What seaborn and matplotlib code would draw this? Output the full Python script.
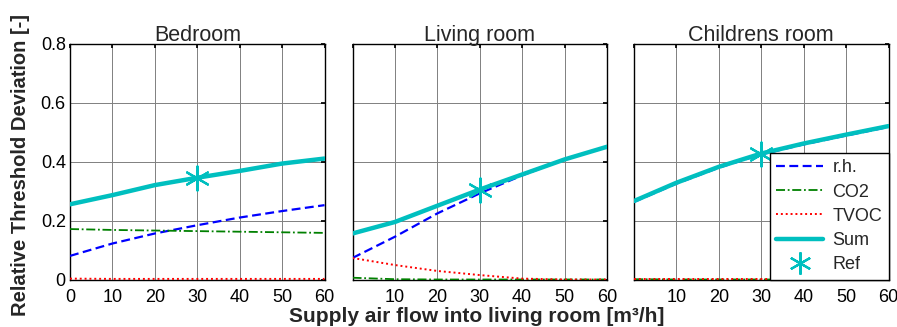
import numpy as np
import pandas as pd
import matplotlib
matplotlib.use("Agg")
import matplotlib.pyplot as plt
import seaborn as sns
from matplotlib.lines import Line2D

# Supply air flow [m³/h]
flow = [0, 10, 20, 30, 40, 50, 60]

rooms = ["Bedroom", "Living room", "Childrens room"]

# Relative threshold deviation per pollutant and room
rh = {
    "Bedroom":        [0.080, 0.122, 0.156, 0.184, 0.210, 0.232, 0.252],
    "Living room":    [0.073, 0.145, 0.224, 0.292, 0.353, 0.407, 0.450],
    "Childrens room": [0.263, 0.325, 0.379, 0.424, 0.458, 0.488, 0.517],
}
co2 = {
    "Bedroom":        [0.171, 0.168, 0.166, 0.164, 0.162, 0.160, 0.158],
    "Living room":    [0.006, 0.001, 0.000, 0.000, 0.000, 0.000, 0.000],
    "Childrens room": [0.001, 0.000, 0.000, 0.000, 0.000, 0.000, 0.000],
}
tvoc = {
    "Bedroom":        [0.003, 0.002, 0.002, 0.002, 0.002, 0.002, 0.002],
    "Living room":    [0.073, 0.049, 0.029, 0.015, 0.003, 0.000, 0.000],
    "Childrens room": [0.003, 0.003, 0.003, 0.003, 0.003, 0.003, 0.003],
}
total = {
    "Bedroom":        [0.255, 0.286, 0.320, 0.345, 0.368, 0.393, 0.410],
    "Living room":    [0.156, 0.195, 0.250, 0.305, 0.356, 0.407, 0.450],
    "Childrens room": [0.266, 0.328, 0.382, 0.427, 0.461, 0.491, 0.520],
}
ref_flow = 30
ref_value = {"Bedroom": 0.345, "Living room": 0.302, "Childrens room": 0.425}

series_names = ["r.h.", "CO2", "TVOC", "Sum"]
colors = {"r.h.": "#0000FF", "CO2": "#008000", "TVOC": "#FF0000", "Sum": "#00BFBF"}
dashes = {"r.h.": (4, 2), "CO2": (5, 1.5, 1, 1.5), "TVOC": (1, 1.5), "Sum": ""}
widths = {"r.h.": 1.6, "CO2": 1.3, "TVOC": 1.4, "Sum": 3.2}
zorders = {"r.h.": 3, "CO2": 3, "TVOC": 3, "Sum": 4}

rows = []
for room in rooms:
    for name, src in zip(series_names, [rh, co2, tvoc, total]):
        for x, y in zip(flow, src[room]):
            rows.append({"room": room, "series": name, "flow": x, "value": y})
df = pd.DataFrame(rows)

sns.set_theme(style="white")
plt.rcParams["font.family"] = ["Liberation Sans", "DejaVu Sans"]

fig = plt.figure(figsize=(8.97, 3.27), dpi=100)
lefts = [70, 352.5, 634]
W, H = 897, 327
axes = []
for i, room in enumerate(rooms):
    ax = fig.add_axes([lefts[i] / W, (H - 279.5) / H, 254.5 / W, 236 / H])
    axes.append(ax)
    sub = df[df["room"] == room]
    for name in series_names:
        s = sub[sub["series"] == name]
        sns.lineplot(data=s, x="flow", y="value", ax=ax, color=colors[name],
                     linewidth=widths[name], legend=False, zorder=zorders[name])
        line = ax.get_lines()[-1]
        if dashes[name]:
            line.set_dashes(dashes[name])
    ax.scatter([ref_flow], [ref_value[room]], marker=(6, 2, 0), s=300,
               color="#00BFBF", linewidths=1.6, zorder=5)
    ax.set_xlim(0, 60)
    ax.set_ylim(0, 0.8)
    ax.set_xticks([0, 10, 20, 30, 40, 50, 60])
    ax.set_yticks([0, 0.2, 0.4, 0.6, 0.8])
    if i == 0:
        ax.set_xticklabels(["0", "10", "20", "30", "40", "50", "60"])
        ax.set_yticklabels(["0", "0.2", "0.4", "0.6", "0.8"])
    else:
        ax.set_xticklabels(["", "10", "20", "30", "40", "50", "60"])
        ax.set_yticklabels([])
    ax.grid(True, color="#808080", linewidth=0.7)
    ax.set_axisbelow(True)
    ax.tick_params(axis="both", direction="in", length=3, labelsize=13,
                   top=True, right=True, colors="black")
    ax.tick_params(axis="x", pad=7)
    ax.tick_params(axis="y", pad=3)
    for sp in ax.spines.values():
        sp.set_color("black")
        sp.set_linewidth(1.0)
    ax.set_xlabel("")
    ax.set_ylabel("")
    ax.set_title(room, fontsize=15.5, pad=2)

# Legend in the last panel
handles = []
for name in series_names:
    h = Line2D([], [], color=colors[name], linewidth=widths[name])
    if dashes[name]:
        h.set_dashes(dashes[name])
    handles.append(h)
handles.append(Line2D([], [], color="#00BFBF", marker=(6, 2, 0), markersize=16,
                      markeredgewidth=1.6, linestyle="none"))
leg = axes[2].legend(handles, series_names + ["Ref"], loc="lower right",
                     fontsize=13, frameon=True, fancybox=False, framealpha=1,
                     edgecolor="black", handlelength=2.6, borderaxespad=0,
                     labelspacing=0.4, handletextpad=0.5, borderpad=0.35)
leg.get_frame().set_linewidth(1.0)

fig.text(21 / W, 1 - 165 / H, "Relative Threshold Deviation [-]", rotation=90,
         ha="center", va="center", fontsize=14.5, fontweight="bold")
fig.text(477 / W, 1 - 317 / H, "Supply air flow into living room [m³/h]",
         ha="center", va="center", fontsize=15, fontweight="bold")

fig.savefig("out.png", dpi=100, facecolor="white")
